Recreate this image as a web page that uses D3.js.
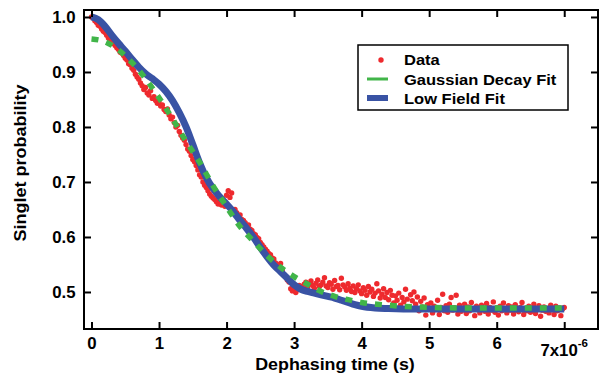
<!DOCTYPE html>
<html>
<head>
<meta charset="utf-8">
<script src="https://cdn.jsdelivr.net/npm/d3@7"></script>
<style>
body { margin: 0; background: #fff; }
text { font-family: "Liberation Sans", Arial, sans-serif; font-weight: bold; fill: #000; }
</style>
</head>
<body>
<svg id="chart" width="602" height="377"></svg>
<script>
// time axis in microseconds (labels carry the x10^-6)
const tStep = 0.025;
const dataVals = [
    1.000, 0.998, 0.993, 0.990, 0.985, 0.983, 0.978, 0.974, 0.972, 0.967,
    0.962, 0.960, 0.955, 0.952, 0.948, 0.944, 0.941, 0.936, 0.934, 0.930,
    0.925, 0.922, 0.915, 0.913, 0.907, 0.903, 0.896, 0.891, 0.887, 0.880,
    0.875, 0.868, 0.872, 0.862, 0.858, 0.866, 0.852, 0.855, 0.848, 0.843,
    0.846, 0.838, 0.840, 0.832, 0.828, 0.833, 0.822, 0.815, 0.818, 0.808,
    0.800, 0.803, 0.792, 0.785, 0.780, 0.776, 0.768, 0.760, 0.756, 0.748,
    0.741, 0.737, 0.730, 0.722, 0.713, 0.709, 0.700, 0.694, 0.690, 0.684,
    0.678, 0.674, 0.671, 0.668, 0.664, 0.660, 0.663, 0.658, 0.661, 0.656,
    0.676, 0.684, 0.672, 0.680, 0.648, 0.650, 0.644, 0.638, 0.640, 0.632,
    0.630, 0.626, 0.620, 0.622, 0.614, 0.612, 0.606, 0.604, 0.599, 0.597,
    0.590, 0.586, 0.582, 0.578, 0.574, 0.570, 0.568, 0.562, 0.560, 0.553,
    0.548, 0.545, 0.552, 0.540, 0.532, 0.528, 0.522, 0.518, 0.506, 0.502,
    0.508, 0.499, 0.504, 0.512, 0.510, 0.506, 0.514, 0.518, 0.509, 0.515,
    0.520, 0.512, 0.507, 0.516, 0.522, 0.510, 0.513, 0.518, 0.526, 0.511,
    0.508, 0.517, 0.514, 0.505, 0.521, 0.510, 0.512, 0.504, 0.525, 0.513,
    0.509, 0.503, 0.515, 0.507, 0.501, 0.511, 0.499, 0.506, 0.513, 0.502,
    0.497, 0.508, 0.503, 0.494, 0.510, 0.500, 0.505, 0.492, 0.498, 0.515,
    0.502, 0.489, 0.496, 0.506, 0.490, 0.499, 0.486, 0.503, 0.494, 0.480,
    0.493, 0.485, 0.498, 0.476, 0.490, 0.482, 0.505, 0.487, 0.470, 0.495,
    0.484, 0.500, 0.478, 0.491, 0.466, 0.483, 0.473, 0.489, 0.458, 0.477,
    0.470, 0.480, 0.462, 0.474, 0.468, 0.485, 0.459, 0.472, 0.496, 0.466,
    0.475, 0.463, 0.478, 0.490, 0.467, 0.471, 0.494, 0.460, 0.476, 0.465,
    0.470, 0.478, 0.461, 0.473, 0.466, 0.481, 0.469, 0.457, 0.474, 0.468,
    0.462, 0.476, 0.470, 0.465, 0.479, 0.460, 0.472, 0.467, 0.482, 0.463,
    0.471, 0.458, 0.474, 0.466, 0.480, 0.469, 0.462, 0.475, 0.467, 0.473,
    0.460, 0.477, 0.468, 0.464, 0.472, 0.481, 0.459, 0.470, 0.466, 0.474,
    0.463, 0.471, 0.478, 0.461, 0.469, 0.475, 0.456, 0.467, 0.473, 0.465,
    0.470, 0.462, 0.476, 0.468, 0.459, 0.474, 0.466, 0.471, 0.457, 0.469,
    0.472
];

const gaussT = [0, 0.2, 0.4, 0.6, 0.8, 1.0, 1.2, 1.4, 1.6, 1.8, 2.0, 2.2, 2.4, 2.6, 2.8,
    3.0, 3.2, 3.4, 3.6, 3.8, 4.0, 4.3, 4.6, 5.0, 5.5, 6.0, 7.0];
const gaussV = [0.960, 0.955, 0.940, 0.917, 0.888, 0.853, 0.815, 0.774, 0.736, 0.693, 0.655,
    0.619, 0.592, 0.566, 0.545, 0.528, 0.514, 0.501, 0.492, 0.486, 0.481, 0.477, 0.474,
    0.472, 0.471, 0.471, 0.471];

const lowT = [0, 0.1, 0.2, 0.3, 0.4, 0.5, 0.6, 0.7, 0.8, 0.9, 1.0, 1.1, 1.2, 1.3, 1.4, 1.5,
    1.6, 1.7, 1.8, 1.9, 2.0, 2.1, 2.2, 2.3, 2.4, 2.5, 2.6, 2.7, 2.8, 2.9, 3.0, 3.1, 3.2,
    3.3, 3.4, 3.5, 3.6, 3.7, 3.8, 3.9, 4.0, 4.2, 4.4, 4.8, 7.0];
const lowV = [1.000, 0.995, 0.983, 0.967, 0.952, 0.938, 0.923, 0.909, 0.897, 0.888, 0.878,
    0.865, 0.848, 0.826, 0.800, 0.768, 0.735, 0.708, 0.688, 0.673, 0.660, 0.646, 0.630,
    0.615, 0.599, 0.581, 0.564, 0.549, 0.537, 0.525, 0.513, 0.505, 0.501, 0.498, 0.495,
    0.492, 0.489, 0.485, 0.481, 0.477, 0.474, 0.471, 0.470, 0.469, 0.469];

const xTicks = [0, 1, 2, 3, 4, 5, 6, 7];
const yTicks = [0.5, 0.6, 0.7, 0.8, 0.9, 1.0];
const legendNames = ["Data", "Gaussian Decay Fit", "Low Field Fit"];

const red = "#ee2a2e";
const green = "#41b549";
const blue = "#3953a4";

const svg = d3.select("svg#chart");

let box = { left: 84, right: 598, top: 10, bottom: 329 };

let x = d3.scaleLinear().domain([-0.111, 7.5]).range([box.left, box.right]);
let y = d3.scaleLinear().domain([0.4327, 1.0127]).range([box.bottom, box.top]);

let points = dataVals.map((v, i) => ({ t: i * tStep, v: v }));
let gauss = gaussT.map((t, i) => ({ t: t, v: gaussV[i] }));
let low = lowT.map((t, i) => ({ t: t, v: lowV[i] }));

// data dots
svg.append("g")
    .selectAll("circle")
    .data(points)
    .enter()
    .append("circle")
    .attr("cx", d => x(d.t))
    .attr("cy", d => y(d.v))
    .attr("r", 2.7)
    .attr("fill", red);

let line = d3.line()
    .x(d => x(d.t))
    .y(d => y(d.v))
    .curve(d3.curveMonotoneX);

svg.append("path")
    .attr("d", line(low))
    .attr("fill", "none")
    .attr("stroke", blue)
    .attr("stroke-width", 7);

svg.append("path")
    .attr("d", line(gauss))
    .attr("fill", "none")
    .attr("stroke", green)
    .attr("stroke-width", 5.5)
    .attr("stroke-dasharray", "7,8");

// axes, ticks pointing inward on all four sides
function styleAxis(g) {
    g.select(".domain").remove();
    g.selectAll("line").attr("stroke", "#000").attr("stroke-width", 2);
    g.attr("font-family", null).attr("font-size", 16);
}

svg.append("g")
    .attr("transform", "translate(" + box.left + ",0)")
    .call(d3.axisLeft(y).tickValues(yTicks).tickFormat(d3.format(".1f"))
        .tickSizeInner(-7).tickSizeOuter(0).tickPadding(8))
    .call(styleAxis)
    .selectAll("text").attr("transform", "scale(1.05,1)");

svg.append("g")
    .attr("transform", "translate(" + box.right + ",0)")
    .call(d3.axisRight(y).tickValues(yTicks).tickFormat("")
        .tickSizeInner(-7).tickSizeOuter(0))
    .call(styleAxis);

let xAxisG = svg.append("g")
    .attr("transform", "translate(0," + box.bottom + ")")
    .call(d3.axisBottom(x).tickValues(xTicks).tickFormat(d => d === 7 ? "" : d)
        .tickSizeInner(-7).tickSizeOuter(0).tickPadding(9))
    .call(styleAxis);
xAxisG.selectAll("text").attr("transform", "scale(1.05,1)");

svg.append("g")
    .attr("transform", "translate(0," + box.top + ")")
    .call(d3.axisTop(x).tickValues(xTicks).tickFormat("")
        .tickSizeInner(-7).tickSizeOuter(0))
    .call(styleAxis);

// "7x10^-6" label at the last tick
let sci = svg.append("text")
    .attr("transform", "translate(" + x(7) + "," + (box.bottom + 27) + ") scale(1.05,1)")
    .attr("text-anchor", "middle")
    .attr("font-size", 16);
sci.append("tspan").text("7x10");
sci.append("tspan").attr("dy", -9).attr("font-size", 11).text("-6");

// frame
svg.append("rect")
    .attr("x", box.left)
    .attr("y", box.top)
    .attr("width", box.right - box.left)
    .attr("height", box.bottom - box.top)
    .attr("fill", "none")
    .attr("stroke", "#000")
    .attr("stroke-width", 2);

// axis titles
svg.append("text")
    .attr("transform", "translate(335,370) scale(1.05,1)")
    .attr("text-anchor", "middle")
    .attr("font-size", 17)
    .text("Dephasing time (s)");

svg.append("text")
    .attr("transform", "translate(26,163) rotate(-90) scale(1.06,1)")
    .attr("text-anchor", "middle")
    .attr("font-size", 17)
    .text("Singlet probability");

// legend
let legend = svg.append("g").attr("transform", "translate(358,45)");

legend.append("rect")
    .attr("width", 210)
    .attr("height", 65)
    .attr("fill", "#fff")
    .attr("stroke", "#000")
    .attr("stroke-width", 1.5);

legend.append("circle")
    .attr("cx", 23).attr("cy", 15).attr("r", 2.7)
    .attr("fill", red);

legend.append("line")
    .attr("x1", 9).attr("x2", 30).attr("y1", 34).attr("y2", 34)
    .attr("stroke", green).attr("stroke-width", 3);

legend.append("line")
    .attr("x1", 9).attr("x2", 30).attr("y1", 53).attr("y2", 53)
    .attr("stroke", blue).attr("stroke-width", 6);

legend.selectAll("text.name")
    .data(legendNames)
    .enter()
    .append("text")
    .attr("class", "name")
    .attr("transform", (d, i) => "translate(46," + (20 + i * 19.5) + ") scale(1.14,1)")
    .attr("font-size", 14.5)
    .text(d => d);
</script>
</body>
</html>
